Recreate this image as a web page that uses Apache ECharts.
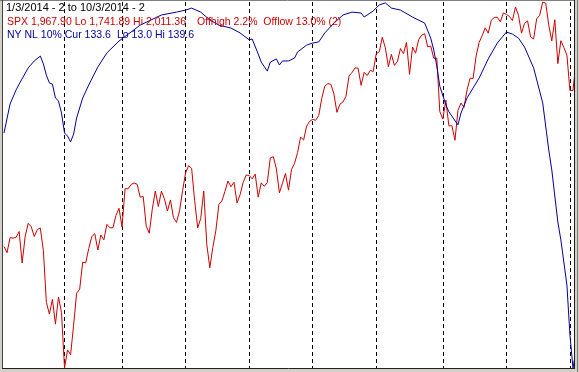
<!DOCTYPE html>
<html>
<head>
<meta charset="utf-8">
<script src="https://cdn.jsdelivr.net/npm/echarts@6/dist/echarts.min.js"></script>
<style>html,body{margin:0;padding:0;background:#d4d0c8;}#c{width:579px;height:372px;}</style>
</head>
<body>
<div id="c"></div>
<script>
// Trading days 1/3/2014 .. 10/3/2014
const tradingDays = {
  1: [3,6,7,8,9,10,13,14,15,16,17,21,22,23,24,27,28,29,30,31],
  2: [3,4,5,6,7,10,11,12,13,14,18,19,20,21,24,25,26,27,28],
  3: [3,4,5,6,7,10,11,12,13,14,17,18,19,20,21,24,25,26,27,28,31],
  4: [1,2,3,4,7,8,9,10,11,14,15,16,17,21,22,23,24,25,28,29,30],
  5: [1,2,5,6,7,8,9,12,13,14,15,16,19,20,21,22,23,27,28,29,30],
  6: [2,3,4,5,6,9,10,11,12,13,16,17,18,19,20,23,24,25,26,27,30],
  7: [1,2,3,7,8,9,10,11,14,15,16,17,18,21,22,23,24,25,28,29,30,31],
  8: [1,4,5,6,7,8,11,12,13,14,15,18,19,20,21,22,25,26,27,28,29],
  9: [2,3,4,5,8,9,10,11,12,15,16,17,18,19,22,23,24,25,26,29,30],
  10: [1,2,3]
};
const categories = [];
const monthStarts = [];
Object.keys(tradingDays).map(Number).sort((a,b)=>a-b).forEach(m => {
  tradingDays[m].forEach((d, i) => {
    if (i === 0 && m !== 1) monthStarts.push(categories.length);
    categories.push(m + '/' + d + '/2014');
  });
});

// SPX daily closes
const spx = [
  1831.37,1826.77,1837.88,1837.49,1838.13,1842.37,1819.20,1838.88,1848.38,1845.89,1838.70,1843.80,1844.86,1828.46,1790.29,1781.56,1792.50,1774.20,1794.19,1782.59,
  1741.89,1755.20,1751.64,1773.43,1797.02,1799.84,1819.75,1819.26,1829.83,1838.63,1840.76,1828.75,1839.78,1836.25,1847.61,1845.12,1845.16,1854.29,1859.45,
  1845.73,1873.91,1873.81,1877.03,1878.04,1877.17,1867.63,1868.20,1846.34,1841.13,1858.83,1872.25,1860.77,1872.01,1866.52,1857.44,1865.62,1852.56,1849.04,1857.62,1872.34,
  1885.52,1890.90,1888.77,1865.09,1845.04,1851.96,1872.18,1833.08,1815.69,1830.61,1842.98,1862.31,1864.85,1871.89,1879.55,1875.39,1878.61,1863.40,1869.43,1878.33,1883.95,
  1883.68,1881.14,1884.66,1867.72,1878.21,1875.63,1878.48,1896.65,1897.45,1888.53,1870.85,1877.86,1885.08,1872.83,1888.03,1892.49,1900.53,1911.91,1909.78,1920.03,1923.57,
  1924.97,1924.24,1927.88,1940.46,1949.44,1951.27,1950.79,1943.89,1930.11,1936.16,1937.78,1941.99,1956.98,1959.48,1962.87,1962.61,1949.98,1959.53,1957.22,1960.96,1960.23,
  1973.32,1974.62,1985.44,1977.65,1963.71,1972.83,1964.68,1967.57,1977.10,1973.28,1981.57,1958.12,1978.22,1973.63,1983.53,1987.01,1987.98,1978.34,1978.91,1969.95,1970.07,1930.67,
  1925.15,1938.99,1920.21,1920.24,1909.57,1931.59,1936.92,1933.75,1946.72,1955.18,1955.06,1971.74,1981.60,1986.51,1992.37,1988.40,1997.92,2000.02,2000.12,1996.74,2003.37,
  2002.28,2000.72,1997.65,2007.71,2001.54,1988.44,1995.69,1997.45,1985.54,1984.13,1998.98,2001.57,2011.36,2010.40,1994.29,1982.77,1998.30,1965.99,1982.85,1977.80,1972.29,
  1946.16,1946.17,1967.90
];

// NY new lows, 10% average: readings (day index -> value)
const nlDayIndex = [0,2,4,5,8,10,12,13,14,15,16,17,18,19,20,21,22,23,24,26,28,31,34,38,45,52,57,60,62,65,68,71,75,78,81,82,84,85,87,88,90,91,92,94,96,97,100,102,104,106,109,112,115,118,119,122,124,126,128,131,135,139,141,142,143,144,146,147,150,151,153,157,160,163,166,168,170,172,175,178,180,181,183,184,186,187,188,189];
const nlValues   = [58.3,48.3,43.4,41.4,35.8,33.4,31.7,34.4,38.3,41.0,41.4,46.2,47.2,51.4,58.3,59.4,61.4,58.7,53.1,46.2,41.7,35.5,30.6,26.5,21.0,17.5,16.5,15.8,15.1,16.5,19.2,21.0,22.0,23.7,26.1,25.8,31.0,33.8,36.9,33.8,32.7,34.8,33.4,33.4,32.4,30.3,27.9,27.2,26.8,23.7,20.3,17.5,16.5,16.8,18.2,16.1,14.0,13.3,15.1,15.8,18.2,20.3,25.5,29.6,35.1,42.1,48.6,51.0,55.5,51.4,46.2,39.3,32.7,27.2,23.4,24.1,25.5,28.6,35.8,47.9,64.2,71.1,89.1,95.3,110.9,128.2,139.6,133.6];

const spxLo = 1741.89, spxHi = 2011.36;
const nlLo = 13.0, nlHi = 139.6;

const titleText = '1/3/2014 - 2 to 10/3/2014 - 2';
const redText1 = 'SPX 1,967.90 Lo 1,741.89 Hi 2,011.36';
const redText2 = 'Offhigh 2.2%  Offlow 13.0% (2)';
const blueText1 = 'NY NL 10% Cur 133.6';
const blueText2 = 'Lo 13.0 Hi 139.6';

const RED = '#cc0000', BLUE = '#00009c';
const chart = echarts.init(document.getElementById('c'), null, {renderer: 'canvas'});
const font = (s) => s + 'px "Liberation Sans", Arial, sans-serif';

chart.setOption({
  animation: false,
  backgroundColor: '#ffffff',
  grid: {left: 4, right: 3, top: 2, bottom: 4, containLabel: false},
  xAxis: {
    type: 'category', data: categories, boundaryGap: false,
    axisLine: {show: false}, axisTick: {show: false}, axisLabel: {show: false},
    splitLine: {show: true, interval: (i) => monthStarts.indexOf(i) >= 0,
      lineStyle: {color: '#000000', width: 1, type: [4, 3]}}
  },
  yAxis: [
    {type: 'value', min: spxLo, max: spxHi, show: false},
    {type: 'value', min: nlLo, max: nlHi, inverse: true, show: false}
  ],
  series: [
    {type: 'line', name: 'SPX', yAxisIndex: 0, data: spx, showSymbol: false, symbol: 'none',
     lineStyle: {color: RED, width: 1}, z: 3},
    {type: 'line', name: 'NY NL', yAxisIndex: 1,
     data: nlDayIndex.map((d, k) => [categories[d], nlValues[k]]),
     showSymbol: false, symbol: 'none', lineStyle: {color: BLUE, width: 1}, z: 4}
  ],
  graphic: [
    {type: 'rect', z: 100, shape: {x: 0, y: 0, width: 2.5, height: 372}, style: {fill: '#d4d0c8'}},
    {type: 'rect', z: 100, shape: {x: 575, y: 0, width: 4, height: 372}, style: {fill: '#d4d0c8'}},
    {type: 'rect', z: 100, shape: {x: 0, y: 369, width: 579, height: 3}, style: {fill: '#d4d0c8'}},
    {type: 'line', z: 101, shape: {x1: 0, y1: 0.5, x2: 575, y2: 0.5}, style: {stroke: '#808080', lineWidth: 1}},
    {type: 'line', z: 101, shape: {x1: 2.5, y1: 0, x2: 2.5, y2: 369}, style: {stroke: '#404040', lineWidth: 1}},
    {type: 'line', z: 101, shape: {x1: 2, y1: 368.5, x2: 575, y2: 368.5}, style: {stroke: '#202020', lineWidth: 1}},
    {type: 'line', z: 101, shape: {x1: 574.5, y1: 0, x2: 574.5, y2: 369}, style: {stroke: '#202020', lineWidth: 1}},
    {type: 'line', z: 101, shape: {x1: 577.5, y1: 0, x2: 577.5, y2: 372}, style: {stroke: '#808080', lineWidth: 1}},
    {type: 'text', z: 102, style: {text: titleText, x: 6, y: 7.5, fill: '#000000', font: font(11), verticalAlign: 'middle'}},
    {type: 'text', z: 102, style: {text: redText1, x: 7, y: 22.5, fill: RED, font: font(10.5), verticalAlign: 'middle'}},
    {type: 'text', z: 102, style: {text: redText2, x: 197, y: 22.5, fill: RED, font: font(10.5), verticalAlign: 'middle'}},
    {type: 'text', z: 102, style: {text: blueText1, x: 7, y: 35, fill: BLUE, font: font(10.5), verticalAlign: 'middle'}},
    {type: 'text', z: 102, style: {text: blueText2, x: 117, y: 35, fill: BLUE, font: font(10.5), verticalAlign: 'middle'}}
  ]
});
</script>
</body>
</html>
